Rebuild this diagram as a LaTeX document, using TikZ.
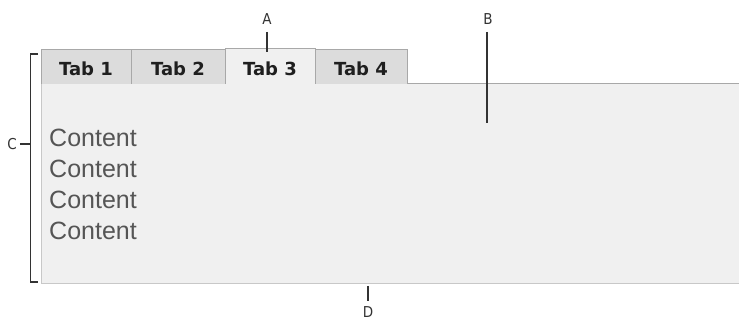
\documentclass[tikz,border=0pt]{standalone}
\usepackage{fontspec}
\setmainfont{DejaVu Sans}
\newfontfamily\contentfont{Liberation Sans}
\newfontfamily\labelfont{DejaVu Sans Condensed}
\definecolor{panelfill}{HTML}{F0F0F0}
\definecolor{tabfill}{HTML}{DCDCDC}
\definecolor{tabedge}{HTML}{A8A8A8}
\definecolor{lowedge}{HTML}{C8C8C8}
\definecolor{contentgray}{HTML}{555555}
\definecolor{callout}{HTML}{333333}
\begin{document}
\begin{tikzpicture}[x=1pt,y=-1pt,
  tabbox/.style={draw=tabedge,fill=tabfill,line width=1pt},
  tablabel/.style={font=\fontsize{18}{20}\selectfont\bfseries,text=black!88,anchor=center,inner sep=0pt},
  contenttext/.style={font=\contentfont\fontsize{25}{28}\selectfont,text=contentgray,anchor=west,inner sep=0pt},
  calloutlbl/.style={font=\labelfont\fontsize{15}{17}\selectfont,text=callout,inner sep=0pt},
  calloutline/.style={draw=callout,line width=1.6pt}]
\useasboundingbox (0,0) rectangle (739,320);
% panel
\fill[panelfill] (41,84) rectangle (739,284);
\draw[lowedge,line width=1pt] (41,84) -- (41,284) -- (739,284);
\draw[tabedge,line width=1pt] (41,84) -- (739,84);
% tabs
\draw[tabbox] (41,84) -- (41,50) -- (131,50) -- (131,84);
\draw[tabbox] (131,84) -- (131,50) -- (225,50) -- (225,84);
\draw[tabbox] (315,84) -- (315,50) -- (407,50) -- (407,84);
\fill[panelfill] (225,49) rectangle (315,84.6);
\draw[tabedge,line width=1pt] (225,84) -- (225,49) -- (315,49) -- (315,84);
\node[tablabel] (t1) at (86,69) {Tab 1};
\node[tablabel] (t2) at (178,69) {Tab 2};
\node[tablabel] (t3) at (270,69) {Tab 3};
\node[tablabel] (t4) at (361,69) {Tab 4};
% content
\node[contenttext] (c1) at (49,138) {Content};
\node[contenttext] (c2) at (49,169) {Content};
\node[contenttext] (c3) at (49,200) {Content};
\node[contenttext] (c4) at (49,231) {Content};
% callouts
\node[calloutlbl] (A) at (267,19) {A};
\coordinate (Aend) at (267,52);
\draw[calloutline] (267,32) -- (Aend);
\node[calloutlbl] (B) at (488,19) {B};
\coordinate (Bend) at (487,123);
\draw[calloutline] (487,32) -- (Bend);
\node[calloutlbl] (C) at (12,144) {C};
\coordinate (Ctop) at (38,54);
\coordinate (Cbot) at (38,282);
\draw[calloutline] (Ctop) -- (30.5,54) -- (30.5,282) -- (Cbot);
\draw[calloutline] (C.east) ++(3,0) -- (30.5,144);
\node[calloutlbl] (D) at (368,312) {D};
\coordinate (Dtop) at (368,286);
\draw[calloutline] (Dtop) -- (368,301);
\end{tikzpicture}
\end{document}
